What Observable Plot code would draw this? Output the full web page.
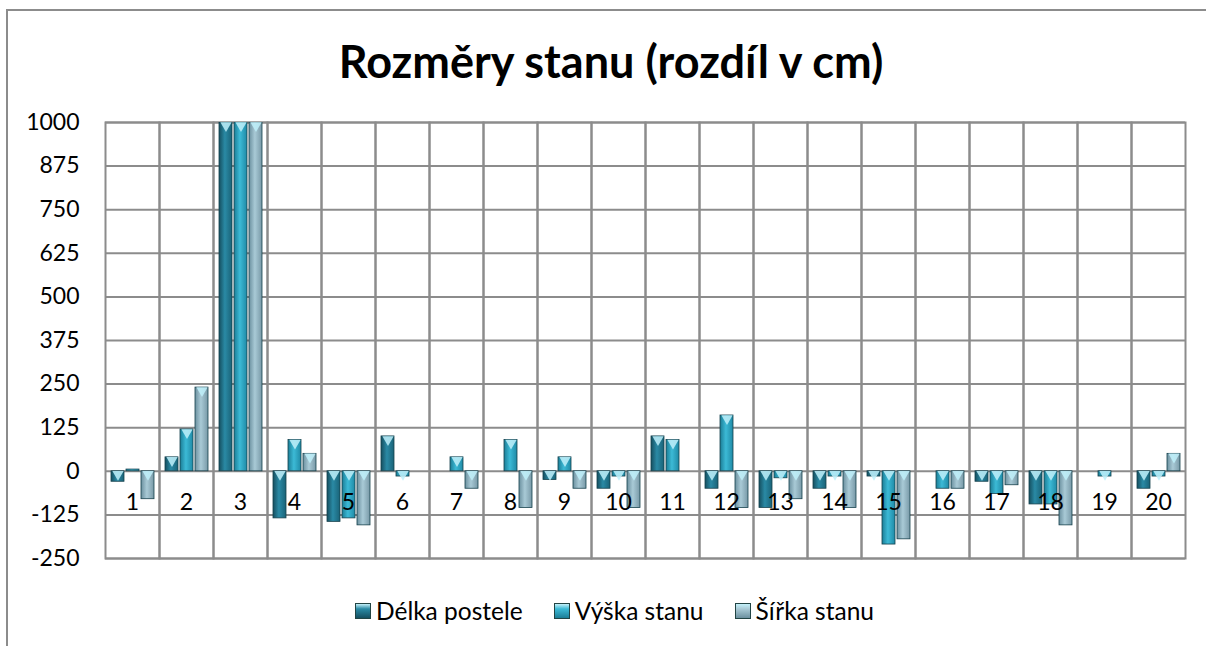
<!DOCTYPE html>
<html>
<head>
<meta charset="utf-8">
<script src="https://cdn.jsdelivr.net/npm/d3@7"></script>
<script src="https://cdn.jsdelivr.net/npm/@observablehq/plot@0.6"></script>
<style>
  html, body { margin: 0; padding: 0; background: #fff; }
  body { width: 1206px; height: 646px; position: relative; overflow: hidden; font-family: Lato, "Open Sans", sans-serif; }
  #frame { position: absolute; left: 6px; top: 9px; width: 1206px; height: 646px; border-left: 2px solid #8c8c8c; border-top: 2px solid #8c8c8c; box-sizing: border-box; }
  #title { position: absolute; left: 0; width: 1222px; top: 33px; text-align: center; font-size: 45px; line-height: 56px; font-weight: bold; color: #000; }
  #chart { position: absolute; left: 0; top: 0; }
  #legend { position: absolute; left: 355px; top: 596px; display: flex; gap: 31px; font-size: 24.5px; line-height: 30px; color: #000; white-space: nowrap; }
  .item { display: flex; align-items: center; }
  .sw { width: 16px; height: 16px; margin-right: 5px; border: 1px solid #244; box-sizing: border-box; }
</style>
</head>
<body>
<div id="frame"></div>
<div id="title">Rozměry stanu (rozdíl v cm)</div>
<div id="chart"></div>
<div id="legend"></div>
<script>
const categories = ["1","2","3","4","5","6","7","8","9","10","11","12","13","14","15","16","17","18","19","20"];
const seriesNames = ["Délka postele", "Výška stanu", "Šířka stanu"];
const delkaPostele = [-30, 40, 1000, -135, -145, 100, 0, 0, -25, -50, 100, -50, -105, -50, -15, 0, -30, -95, 0, -50];
const vyskaStanu   = [5, 120, 1000, 90, -135, -15, 40, 90, 40, -15, 90, 160, -20, -15, -210, -50, -65, -95, -15, -15];
const sirkaStanu   = [-80, 240, 1000, 50, -155, 0, -50, -105, -50, -105, 0, -105, -80, -105, -195, -50, -40, -155, 0, 50];
const yTicks = [-250, -125, 0, 125, 250, 375, 500, 625, 750, 875, 1000];
const seriesColors = ["#1d6f86", "#27a2c0", "#86adbd"];

const seriesValues = [delkaPostele, vyskaStanu, sirkaStanu];
const data = [];
categories.forEach((c, i) => seriesNames.forEach((s, j) => data.push({cat: c, series: s, value: seriesValues[j][i]})));

const chart = Plot.plot({
  width: 1206,
  height: 646,
  marginLeft: 103,
  marginRight: 19,
  marginTop: 122,
  marginBottom: 88,
  style: {fontFamily: "Lato, 'Open Sans', sans-serif", fontSize: "23px", color: "#000", background: "transparent"},
  fx: {domain: categories, padding: 0, label: null},
  x: {domain: seriesNames, paddingInner: 0.14, paddingOuter: 0.3, axis: null},
  y: {domain: [-250, 1000], ticks: yTicks, label: null},
  color: {domain: seriesNames, range: ["url(#g0)", "url(#g1)", "url(#g2)"]},
  marks: [
    Plot.gridY(yTicks, {stroke: "#8c8c8c", strokeOpacity: 1, strokeWidth: 2}),
    Plot.frame({stroke: "#8c8c8c", strokeWidth: 2}),
    Plot.barY(data.filter(d => d.value !== 0), {fx: "cat", x: "series", y: "value", fill: "series", stroke: "#16414d", strokeWidth: 0.8, clip: true}),
    Plot.dot(data.filter(d => d.value !== 0 && Math.abs(d.value) >= 12), {fx: "cat", x: "series", y: d => Math.min(Math.max(d.value, 0), 1000), symbol: "triangle", rotate: 180, r: 4.2, dy: 3, fill: "#bff0fa", fillOpacity: 0.85, stroke: "none"}),
    Plot.axisY(yTicks, {tickSize: 0, tickPadding: 26, fontSize: 23, label: null, tickFormat: d => String(d)}),
    Plot.axisFx({anchor: "bottom", tickSize: 0, tickPadding: 0, dy: -65, fontSize: 23, label: null})
  ]
});
document.getElementById("chart").appendChild(chart);

const svg = chart.tagName.toLowerCase() === "svg" ? chart : chart.querySelector("svg");
const ns = "http://www.w3.org/2000/svg";
const defs = document.createElementNS(ns, "defs");
const grads = [
  ["#154f60", "#2a8aa5", "#1a6378"],
  ["#1b7d96", "#3cbad6", "#1f8aa6"],
  ["#6b909f", "#a9cad6", "#7899a7"]
];
grads.forEach((g, i) => {
  const lg = document.createElementNS(ns, "linearGradient");
  lg.setAttribute("id", "g" + i);
  lg.setAttribute("x1", "0"); lg.setAttribute("x2", "1"); lg.setAttribute("y1", "0"); lg.setAttribute("y2", "0");
  [[0, g[0]], [0.45, g[1]], [1, g[2]]].forEach(([o, c]) => {
    const st = document.createElementNS(ns, "stop");
    st.setAttribute("offset", o);
    st.setAttribute("stop-color", c);
    lg.appendChild(st);
  });
  defs.appendChild(lg);
});
svg.insertBefore(defs, svg.firstChild);

const legend = document.getElementById("legend");
seriesNames.forEach((s, i) => {
  const it = document.createElement("div");
  it.className = "item";
  const sw = document.createElement("div");
  sw.className = "sw";
  sw.style.background = `linear-gradient(180deg, #c4f1fa 0%, ${grads[i][1]} 35%, ${grads[i][0]} 100%)`;
  it.appendChild(sw);
  const t = document.createElement("span");
  t.textContent = s;
  it.appendChild(t);
  legend.appendChild(it);
});
</script>
</body>
</html>
